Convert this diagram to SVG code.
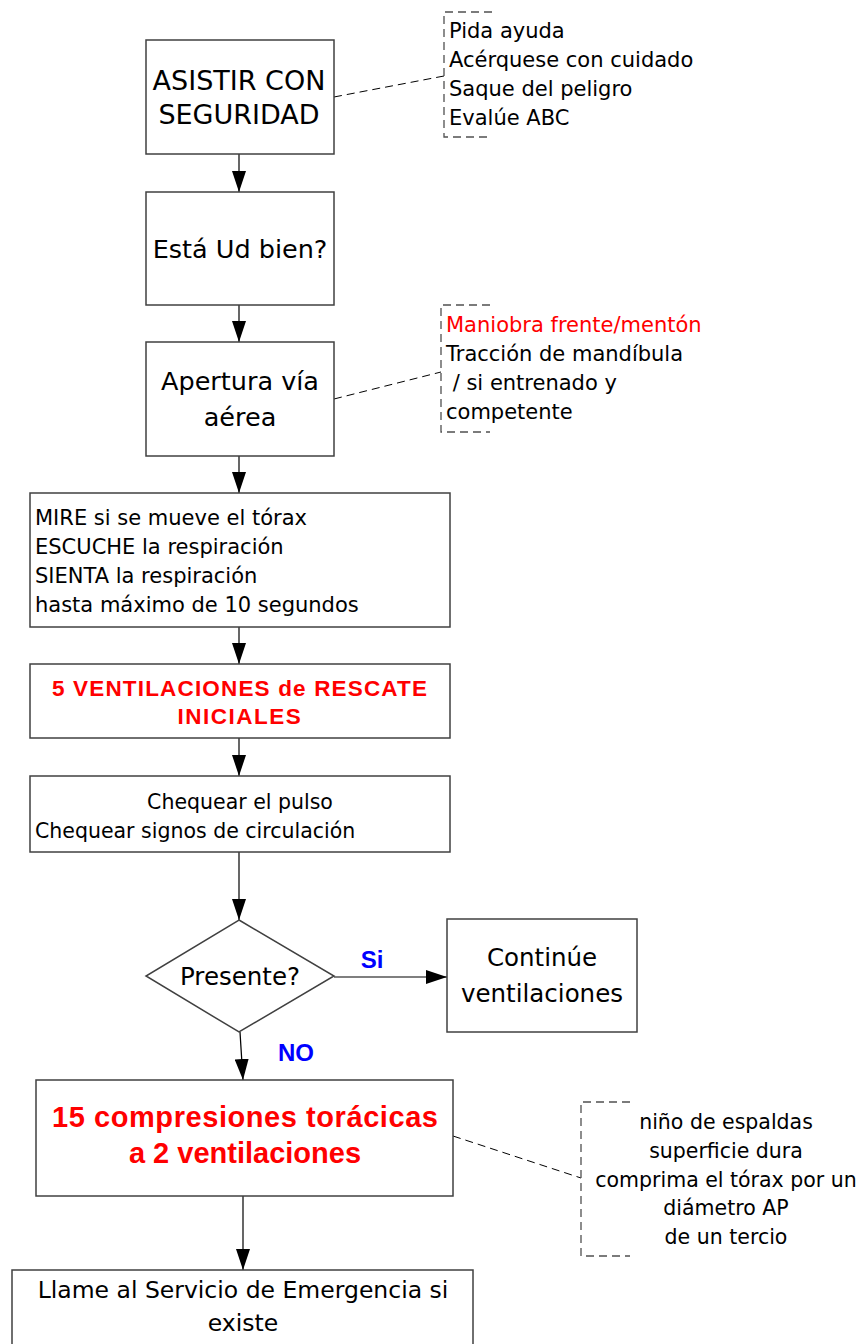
<svg xmlns="http://www.w3.org/2000/svg" width="866" height="1344" viewBox="0 0 866 1344">
<style>
.box{fill:#fff;stroke:#404040;stroke-width:1.5}
.t{font-family:"DejaVu Sans","Liberation Sans",sans-serif;fill:#000}
.b{font-family:"Liberation Sans",Arial,sans-serif;font-weight:bold}
.red{fill:#ff0000}
.blue{fill:#0000ff}
.con{stroke:#000;stroke-width:1.2;fill:none}
.dash{stroke:#000;stroke-width:1;fill:none;stroke-dasharray:8,5}
.br{stroke:#505050;stroke-width:1.3;fill:none;stroke-dasharray:8,5}
</style>
<defs>
<marker id="ah" viewBox="0 0 21 14" refX="21" refY="7" markerWidth="21" markerHeight="14" markerUnits="userSpaceOnUse" orient="auto">
<path d="M0,0 L21,7 L0,14 Z" fill="#000"/>
</marker>
</defs>
<g id="connectors">
<line class="con" x1="239" y1="154" x2="239" y2="192" marker-end="url(#ah)"/>
<line class="con" x1="239" y1="305" x2="239" y2="342" marker-end="url(#ah)"/>
<line class="con" x1="239" y1="456" x2="239" y2="493" marker-end="url(#ah)"/>
<line class="con" x1="239" y1="627" x2="239" y2="664" marker-end="url(#ah)"/>
<line class="con" x1="239" y1="738" x2="239" y2="776" marker-end="url(#ah)"/>
<line class="con" x1="239" y1="852" x2="239" y2="920" marker-end="url(#ah)"/>
<line class="con" x1="334" y1="977" x2="447" y2="977" marker-end="url(#ah)"/>
<line class="con" x1="240" y1="1032" x2="243" y2="1080" marker-end="url(#ah)"/>
<line class="con" x1="243" y1="1196" x2="243" y2="1270" marker-end="url(#ah)"/>
<line class="dash" x1="334" y1="97" x2="444" y2="76"/>
<line class="dash" x1="334" y1="399" x2="441" y2="372"/>
<line class="dash" x1="453" y1="1136" x2="581" y2="1178"/>
<text class="b blue" x="372" y="968" font-size="24" text-anchor="middle">Si</text>
<text class="b blue" x="296" y="1061" font-size="24" text-anchor="middle">NO</text>
</g>
<g id="n1">
<rect class="box" x="146" y="40" width="188" height="114"/>
<text class="t" font-size="27" text-anchor="middle"><tspan x="239" y="90">ASISTIR CON</tspan><tspan x="239" y="124">SEGURIDAD</tspan></text>
</g>
<g id="note1">
<path class="br" d="M492,12 H444 V137 H492"/>
<text class="t" font-size="21"><tspan x="449" y="38">Pida ayuda</tspan><tspan x="449" y="67">Acérquese con cuidado</tspan><tspan x="449" y="96">Saque del peligro</tspan><tspan x="449" y="125">Evalúe ABC</tspan></text>
</g>
<g id="n2">
<rect class="box" x="146" y="192" width="188" height="113"/>
<text class="t" font-size="25.5" x="240" y="258" text-anchor="middle">Está Ud bien?</text>
</g>
<g id="n3">
<rect class="box" x="146" y="342" width="188" height="114"/>
<text class="t" font-size="25.5" text-anchor="middle"><tspan x="240" y="390">Apertura vía</tspan><tspan x="240" y="426">aérea</tspan></text>
</g>
<g id="note2">
<path class="br" d="M490,305 H441 V432 H490"/>
<text class="t" font-size="21"><tspan x="446" y="332" class="red">Maniobra frente/mentón</tspan><tspan x="446" y="361">Tracción de mandíbula</tspan><tspan x="446" y="390"> / si entrenado y</tspan><tspan x="446" y="419">competente</tspan></text>
</g>
<g id="n4">
<rect class="box" x="30" y="493" width="420" height="134"/>
<text class="t" font-size="21"><tspan x="35" y="525">MIRE si se mueve el tórax</tspan><tspan x="35" y="554">ESCUCHE la respiración</tspan><tspan x="35" y="583">SIENTA la respiración</tspan><tspan x="35" y="612">hasta máximo de 10 segundos</tspan></text>
</g>
<g id="n5">
<rect class="box" x="30" y="664" width="420" height="74"/>
<text class="b red" font-size="22.5"><tspan x="52" y="696" textLength="375" lengthAdjust="spacing">5 VENTILACIONES de RESCATE</tspan><tspan x="240" y="724" text-anchor="middle" letter-spacing="1.5">INICIALES</tspan></text>
</g>
<g id="n6">
<rect class="box" x="30" y="776" width="420" height="76"/>
<text class="t" font-size="20.5"><tspan x="240" y="809" text-anchor="middle">Chequear el pulso</tspan><tspan x="35" y="838">Chequear signos de circulación</tspan></text>
</g>
<g id="n7">
<polygon class="box" points="239,920 334,976 239,1032 146,976"/>
<text class="t" font-size="24.5" x="240" y="985" text-anchor="middle">Presente?</text>
</g>
<g id="n8">
<rect class="box" x="447" y="919" width="190" height="113"/>
<text class="t" font-size="24.5" text-anchor="middle"><tspan x="542" y="966">Continúe</tspan><tspan x="542" y="1002">ventilaciones</tspan></text>
</g>
<g id="n9">
<rect class="box" x="36" y="1080" width="417" height="116"/>
<text class="b red" font-size="29" text-anchor="middle"><tspan x="245" y="1127" textLength="386" lengthAdjust="spacing">15 compresiones torácicas</tspan><tspan x="245" y="1163">a 2 ventilaciones</tspan></text>
</g>
<g id="note3">
<path class="br" d="M630,1102 H581 V1256 H630"/>
<text class="t" font-size="20.5" text-anchor="middle"><tspan x="726" y="1129">niño de espaldas</tspan><tspan x="726" y="1158">superficie dura</tspan><tspan x="726" y="1187">comprima el tórax por un</tspan><tspan x="726" y="1215">diámetro AP</tspan><tspan x="726" y="1244">de un tercio</tspan></text>
</g>
<g id="n10">
<rect class="box" x="12" y="1270" width="461" height="80"/>
<text class="t" font-size="23.5" text-anchor="middle"><tspan x="243" y="1298">Llame al Servicio de Emergencia si</tspan><tspan x="243" y="1331">existe</tspan></text>
</g>
</svg>
